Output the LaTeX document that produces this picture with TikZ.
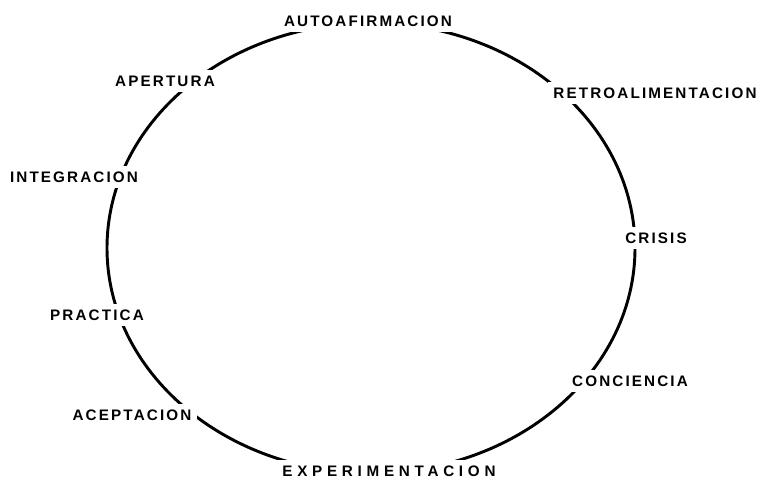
\documentclass[tikz,border=0pt]{standalone}
\usepackage{fontspec}
\newfontfamily\etiqfont[LetterSpace=14]{Liberation Sans Bold}
\newfontfamily\etiqancha[LetterSpace=31]{Liberation Sans Bold}

\begin{document}
\begin{tikzpicture}[x=0.03cm, y=-0.03cm, line cap=round, line join=round]

    % Stili
    \tikzset{etiq/.style={font=\etiqfont\fontsize{13}{14}\selectfont, fill=white, inner sep=5pt}}
    \tikzset{etiqlarga/.style={etiq, font=\etiqancha\fontsize{13}{14}\selectfont}}
    \tikzset{ciclo/.style={line width=2.5pt}}

    \useasboundingbox (0,0) rectangle (767,488);

    % Ciclo
    \draw[ciclo] (371,248) ellipse [x radius=7.92cm, y radius=6.75cm];

    % Etichette sul ciclo
    \node[etiq] (autoafirmacion) at (368,21) {AUTOAFIRMACION};
    \node[etiq] (retro) at (655,93) {RETROALIMENTACION};
    \node[etiq] (crisis) at (656,238) {CRISIS};
    \node[etiq] (conciencia) at (630,381) {CONCIENCIA};
    \node[etiqlarga] (experimentacion) at (389,471) {EXPERIMENTACION};
    \node[etiq] (aceptacion) at (132,415) {ACEPTACION};
    \node[etiq] (practica) at (97,315) {PRACTICA};
    \node[etiq] (integracion) at (74,177) {INTEGRACION};
    \node[etiq] (apertura) at (165,81) {APERTURA};

\end{tikzpicture}
\end{document}
